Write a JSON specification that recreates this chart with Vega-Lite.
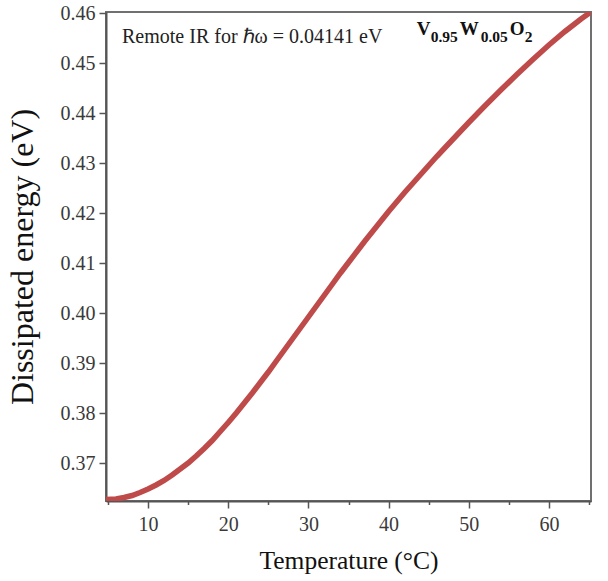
{
  "$schema": "https://vega.github.io/schema/vega-lite/v6.json",
  "width": 485,
  "height": 489,
  "autosize": {"type": "none"},
  "padding": {"left": 106, "top": 12, "right": 17, "bottom": 80},
  "background": "white",
  "config": {
    "view": {"stroke": "#707070", "strokeWidth": 2},
    "axis": {
      "domainColor": "#555555",
      "domainWidth": 2,
      "tickColor": "#555555",
      "tickWidth": 1.5,
      "labelFont": "Liberation Serif",
      "labelFontSize": 20,
      "labelColor": "#3a3a3a",
      "labelOverlap": false,
      "titleFont": "Liberation Serif",
      "titleFontWeight": "normal",
      "titleColor": "#111111",
      "grid": false
    }
  },
  "data": {
    "values": [
      {"T": 4.75, "E": 0.3627},
      {"T": 6, "E": 0.3628},
      {"T": 7, "E": 0.3631},
      {"T": 8, "E": 0.3635},
      {"T": 9, "E": 0.3641},
      {"T": 10, "E": 0.3648},
      {"T": 11, "E": 0.3656},
      {"T": 12, "E": 0.3665},
      {"T": 13, "E": 0.3676},
      {"T": 14, "E": 0.3688},
      {"T": 15, "E": 0.3700},
      {"T": 16, "E": 0.3714},
      {"T": 17, "E": 0.3729},
      {"T": 18, "E": 0.3745},
      {"T": 19, "E": 0.3763},
      {"T": 20, "E": 0.3781},
      {"T": 21, "E": 0.3800},
      {"T": 22, "E": 0.3820},
      {"T": 23, "E": 0.3840},
      {"T": 24, "E": 0.3861},
      {"T": 25, "E": 0.3882},
      {"T": 26, "E": 0.3904},
      {"T": 27, "E": 0.3926},
      {"T": 28, "E": 0.3948},
      {"T": 29, "E": 0.3970},
      {"T": 30, "E": 0.3992},
      {"T": 31, "E": 0.4014},
      {"T": 32, "E": 0.4036},
      {"T": 33, "E": 0.4058},
      {"T": 34, "E": 0.4080},
      {"T": 35, "E": 0.4101},
      {"T": 36, "E": 0.4122},
      {"T": 37, "E": 0.4143},
      {"T": 38, "E": 0.4163},
      {"T": 39, "E": 0.4183},
      {"T": 40, "E": 0.4203},
      {"T": 41, "E": 0.4222},
      {"T": 42, "E": 0.4241},
      {"T": 43, "E": 0.4259},
      {"T": 44, "E": 0.4277},
      {"T": 45, "E": 0.4295},
      {"T": 46, "E": 0.4313},
      {"T": 47, "E": 0.4330},
      {"T": 48, "E": 0.4347},
      {"T": 49, "E": 0.4364},
      {"T": 50, "E": 0.4381},
      {"T": 52, "E": 0.4414},
      {"T": 54, "E": 0.4446},
      {"T": 56, "E": 0.4477},
      {"T": 58, "E": 0.4507},
      {"T": 60, "E": 0.4536},
      {"T": 62, "E": 0.4563},
      {"T": 64, "E": 0.4588},
      {"T": 65.25, "E": 0.4602}
    ]
  },
  "layer": [
    {
      "mark": {"type": "line", "color": "#bf4a4a", "strokeWidth": 5.5, "clip": true},
      "encoding": {
        "x": {
          "field": "T", "type": "quantitative",
          "scale": {"domain": [4.75, 65.25], "nice": false, "zero": false},
          "axis": {
            "title": "Temperature (°C)",
            "titleFontSize": 25.5,
            "titlePadding": 14,
            "values": [5, 10, 15, 20, 25, 30, 35, 40, 45, 50, 55, 60, 65],
            "labelExpr": "datum.value % 10 === 0 ? datum.value : ''",
            "tickSize": {"condition": {"test": "datum.value % 10 === 0", "value": 7}, "value": 3.5},
            "labelPadding": 6
          }
        },
        "y": {
          "field": "E", "type": "quantitative",
          "scale": {"domain": [0.3624, 0.4602], "nice": false, "zero": false},
          "axis": {
            "title": "Dissipated energy (eV)",
            "titleFontSize": 32,
            "titlePadding": 21,
            "format": ".2f",
            "values": [0.37, 0.38, 0.39, 0.40, 0.41, 0.42, 0.43, 0.44, 0.45, 0.46],
            "tickSize": 7,
            "labelPadding": 4
          }
        }
      }
    },
    {
      "data": {"values": [{}]},
      "mark": {"type": "text", "text": "Remote IR for ℏω = 0.04141 eV", "font": "Liberation Serif", "fontSize": 20, "align": "left", "baseline": "alphabetic", "color": "#222222"},
      "encoding": {"x": {"datum": 6.75}, "y": {"datum": 0.454}}
    },
    {
      "data": {"values": [{}]},
      "mark": {"type": "text", "text": "V", "font": "Liberation Serif", "fontWeight": "bold", "fontSize": 19, "align": "left", "baseline": "alphabetic", "color": "#111111", "dx": 0},
      "encoding": {"x": {"datum": 43.5}, "y": {"datum": 0.4556}}
    },
    {
      "data": {"values": [{}]},
      "mark": {"type": "text", "text": "0.95", "font": "Liberation Serif", "fontWeight": "bold", "fontSize": 15.5, "align": "left", "baseline": "alphabetic", "color": "#111111", "dx": 14, "dy": 7},
      "encoding": {"x": {"datum": 43.5}, "y": {"datum": 0.4556}}
    },
    {
      "data": {"values": [{}]},
      "mark": {"type": "text", "text": "W", "font": "Liberation Serif", "fontWeight": "bold", "fontSize": 19, "align": "left", "baseline": "alphabetic", "color": "#111111", "dx": 43},
      "encoding": {"x": {"datum": 43.5}, "y": {"datum": 0.4556}}
    },
    {
      "data": {"values": [{}]},
      "mark": {"type": "text", "text": "0.05", "font": "Liberation Serif", "fontWeight": "bold", "fontSize": 15.5, "align": "left", "baseline": "alphabetic", "color": "#111111", "dx": 64, "dy": 7},
      "encoding": {"x": {"datum": 43.5}, "y": {"datum": 0.4556}}
    },
    {
      "data": {"values": [{}]},
      "mark": {"type": "text", "text": "O", "font": "Liberation Serif", "fontWeight": "bold", "fontSize": 19, "align": "left", "baseline": "alphabetic", "color": "#111111", "dx": 93},
      "encoding": {"x": {"datum": 43.5}, "y": {"datum": 0.4556}}
    },
    {
      "data": {"values": [{}]},
      "mark": {"type": "text", "text": "2", "font": "Liberation Serif", "fontWeight": "bold", "fontSize": 15.5, "align": "left", "baseline": "alphabetic", "color": "#111111", "dx": 108, "dy": 7},
      "encoding": {"x": {"datum": 43.5}, "y": {"datum": 0.4556}}
    }
  ]
}
